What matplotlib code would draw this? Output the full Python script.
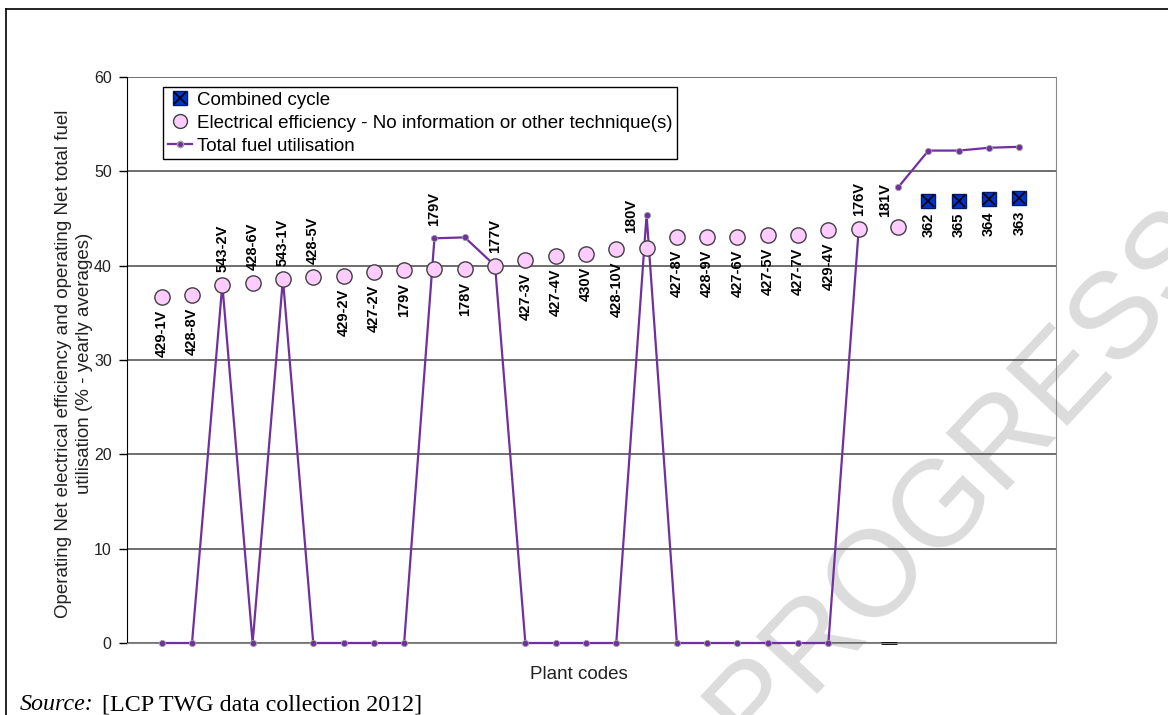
import matplotlib.pyplot as plt
from matplotlib.lines import Line2D
from matplotlib.legend_handler import HandlerTuple
import numpy as np

plt.rcParams['font.family'] = ['Liberation Sans', 'DejaVu Sans']

plant_codes = ['429-1V', '428-8V', '543-2V', '428-6V', '543-1V', '428-5V', '429-2V',
               '427-2V', '179V', '179V', '178V', '177V', '427-3V', '427-4V', '430V',
               '428-10V', '180V', '427-8V', '428-9V', '427-6V', '427-5V', '427-7V',
               '429-4V', '176V', '181V', '362', '365', '364', '363']

# electrical efficiency (no information / other technique) - first 25 plants
elec_eff = [36.7, 36.9, 38.0, 38.2, 38.6, 38.8, 38.9, 39.3, 39.5, 39.6, 39.6, 40.0,
            40.6, 41.0, 41.2, 41.8, 41.9, 43.0, 43.0, 43.0, 43.25, 43.25, 43.8, 43.9, 44.1]
# combined cycle - last 4 plants
combined_cycle = [46.9, 46.9, 47.1, 47.2]
# total fuel utilisation (0 = not reported)
fuel_util = [0, 0, 38.0, 0, 38.6, 0, 0, 0, 0, 42.9, 43.0, 40.0, 0, 0, 0, 0, 45.4,
             0, 0, 0, 0, 0, 0, 43.9, 48.3, 52.2, 52.2, 52.5, 52.6]

# where each data label sits
label_place = ['below', 'below', 'above', 'above', 'above', 'above', 'below', 'below',
               'below', 'above_fuel', 'below', 'above', 'below', 'below', 'below', 'below',
               'left_fuel', 'below', 'below', 'below', 'below', 'below', 'below', 'above',
               'left_fuel2', 'below', 'below', 'below', 'below']

n_elec = len(elec_eff)
x = np.arange(len(plant_codes), dtype=float)
x[n_elec - 1:] += 0.3   # small gap before the last group
marker_vals = elec_eff + combined_cycle

purple = '#7030A0'

fig = plt.figure(figsize=(11.68, 7.15), dpi=100)
ax = fig.add_axes([127 / 1168, 1 - 643 / 715, 929 / 1168, 566 / 715])
ax.patch.set_alpha(0)

# total fuel utilisation line (two pieces)
for sl in (slice(0, n_elec - 1), slice(n_elec - 1, None)):
    ax.plot(x[sl], fuel_util[sl], color=purple, lw=1.6, marker='o', ms=4.5,
            mfc=purple, mec='#a0a0a0', mew=0.6, zorder=3, clip_on=False)

ax.plot(x[:n_elec], elec_eff, ls='none', marker='o', ms=11, mfc='#FFCCFF',
        mec='#404040', mew=1, zorder=4)
ax.plot(x[n_elec:], combined_cycle, ls='none', marker='s', ms=10, mfc='#0033CC',
        mec='#001a66', mew=1, zorder=4)
ax.plot(x[n_elec:], combined_cycle, ls='none', marker='x', ms=8, mec='black',
        mew=1.2, zorder=5)

# leftover axis dash under the blank slot
ax.plot([24], [0], marker='_', color='black', ms=11, mew=2, clip_on=False, zorder=2)

for i, code in enumerate(plant_codes):
    place = label_place[i]
    if place == 'below':
        xy, off, ha, va = (x[i], marker_vals[i]), (0, -9), 'center', 'top'
    elif place == 'above':
        xy, off, ha, va = (x[i], marker_vals[i]), (0, 9), 'center', 'bottom'
    elif place == 'above_fuel':
        xy, off, ha, va = (x[i], fuel_util[i]), (0, 9), 'center', 'bottom'
    elif place == 'left_fuel':
        xy, off, ha, va = (x[i], fuel_util[i]), (-6, -1), 'right', 'center'
    else:
        xy, off, ha, va = (x[i], fuel_util[i]), (-4, -9), 'right', 'center'
    ax.annotate(code, xy=xy, xytext=off, textcoords='offset points', rotation=90,
                ha=ha, va=va, fontsize=10.5, fontweight='bold', zorder=6)

ax.set_xlim(-1.145, 29.51)
ax.set_ylim(0, 60)
ax.set_yticks(range(0, 61, 10))
ax.set_xticks([])
ax.grid(axis='y', color='#555555', lw=1.2)
ax.set_axisbelow(True)
ax.tick_params(axis='y', length=6, width=1, labelsize=11.5, labelcolor='#222222', pad=5)
ax.spines['left'].set_color('black')
for s in ('right', 'bottom'):
    ax.spines[s].set_color('#888888')
ax.spines['top'].set_visible(False)

ax.text(-0.057, 0.4938,
        'Operating Net electrical efficiency and operating Net total fuel\n'
        'utilisation (% - yearly averages)',
        transform=ax.transAxes, rotation=90, ha='center', va='center',
        fontsize=13.5, color='#222222', linespacing=1.25)
ax.text(0.4865, -0.0565, 'Plant codes', transform=ax.transAxes, ha='center',
        va='center', fontsize=13.5, color='#222222')

handles = [
    (Line2D([], [], ls='none', marker='s', ms=10, mfc='#0033CC', mec='#001a66'),
     Line2D([], [], ls='none', marker='x', ms=8, mec='black', mew=1.2)),
    Line2D([], [], ls='none', marker='o', ms=10, mfc='#FFCCFF', mec='#404040'),
    Line2D([], [], color=purple, lw=1.6, marker='o', ms=4.5, mfc=purple, mec='#a0a0a0'),
]
labels = ['Combined cycle', 'Electrical efficiency - No information or other technique(s)',
          'Total fuel utilisation']
leg = ax.legend(handles, labels, loc='upper left', bbox_to_anchor=(0.0388, 0.982),
                fontsize=13.5, frameon=True, fancybox=False, framealpha=1,
                edgecolor='black', handlelength=1.3, handletextpad=0.25,
                labelspacing=0.3, borderpad=0.25, borderaxespad=0,
                handler_map={tuple: HandlerTuple(ndivide=1)})
leg.get_frame().set_linewidth(1)
leg.set_zorder(10)

# page frame
fig.add_artist(Line2D([6 / 1168, 1], [1 - 9 / 715] * 2, color='black', lw=1.2))
fig.add_artist(Line2D([6 / 1168] * 2, [0, 1 - 9 / 715], color='black', lw=1.2))

fig.text(20 / 1168, 1 - 710 / 715, 'Source:', family='Liberation Serif',
         style='italic', fontsize=17.3, va='baseline')
fig.text(102 / 1168, 1 - 710 / 715, '[LCP TWG data collection 2012]',
         family='Liberation Serif', fontsize=17.3, va='baseline')

# watermark
fig.text(965 / 1168, 1 - 478 / 715, 'PROGRESS', rotation=47, fontsize=88,
         color='#dcdcdc', ha='center', va='center', zorder=-1)

fig.savefig('out.png', dpi=100)
